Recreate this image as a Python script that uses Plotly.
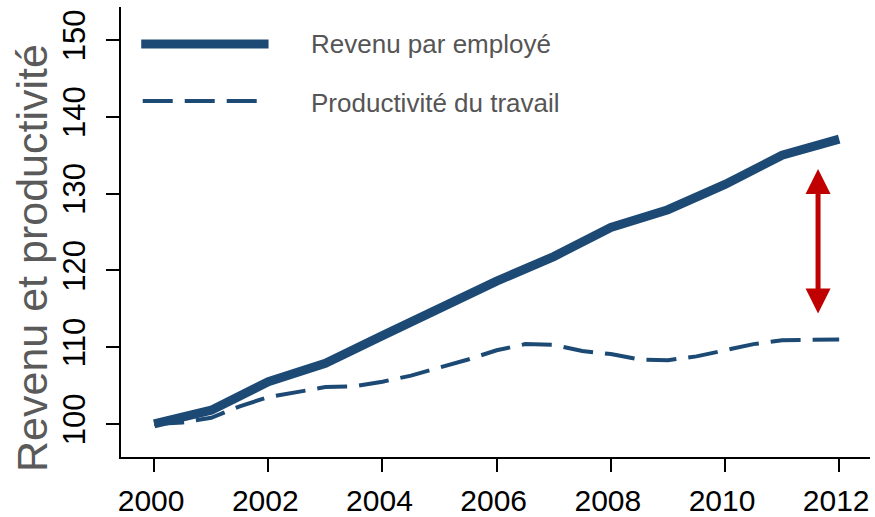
import plotly.graph_objects as go

# Revenu par employé (indice 2000 = 100)
years_rev = [2000, 2000.5, 2001, 2002, 2003, 2004, 2005, 2006, 2007, 2008, 2009, 2010, 2011, 2012]
revenu = [100, 100.9, 101.8, 105.5, 107.9, 111.5, 115.2, 118.6, 121.8, 125.6, 127.9, 131.2, 135.0, 137.1]

# Productivité du travail (indice 2000 = 100)
years_prod = [2000, 2000.5, 2001, 2001.5, 2002, 2002.5, 2003, 2003.5, 2004, 2004.5, 2005, 2005.5,
              2006, 2006.5, 2007, 2007.5, 2008, 2008.5, 2009, 2009.5, 2010, 2010.5, 2011, 2011.5, 2012]
productivite = [100, 100.2, 100.8, 102.3, 103.5, 104.2, 104.8, 104.9, 105.5, 106.3, 107.3, 108.4,
                109.6, 110.4, 110.3, 109.5, 109.1, 108.4, 108.3, 108.8, 109.6, 110.4, 110.9, 111.0, 111.0]

x_ticks = [2000, 2002, 2004, 2006, 2008, 2010, 2012]
y_ticks = [100, 110, 120, 130, 140, 150]

# écart signalé par la flèche rouge
gap_year = 2011.63
gap_low, gap_high = 114.2, 133.2

navy = "#1D4A74"
red = "#C00000"
font = "Liberation Sans, Arial, sans-serif"

fig = go.Figure()
fig.add_trace(go.Scatter(x=years_rev, y=revenu, mode="lines",
                         line=dict(color=navy, width=9), showlegend=False))
fig.add_trace(go.Scatter(x=years_prod, y=productivite, mode="lines",
                         line=dict(color=navy, width=4, dash="30px,12px"), showlegend=False))

# double flèche
fig.add_annotation(x=gap_year, y=gap_high, ax=gap_year, ay=gap_low,
                   xref="x", yref="y", axref="x", ayref="y", text="",
                   showarrow=True, arrowhead=2, arrowside="end+start",
                   arrowsize=1.0, arrowwidth=5, arrowcolor=red, standoff=0, startstandoff=0)

# légende manuelle
fig.add_shape(type="line", xref="paper", yref="paper", x0=0.027, x1=0.197, y0=0.918, y1=0.918,
              line=dict(color=navy, width=9))
fig.add_shape(type="line", xref="paper", yref="paper", x0=0.029, x1=0.183, y0=0.791, y1=0.791,
              line=dict(color=navy, width=4, dash="30px,12px"))
for label, ypos in [("Revenu par employé", 0.918), ("Productivité du travail", 0.786)]:
    fig.add_annotation(x=0.251, y=ypos, xref="paper", yref="paper", text=label,
                       showarrow=False, xanchor="left", yanchor="middle",
                       font=dict(family=font, size=26, color="#555555"))

# titre de l'axe vertical (placé un peu sous le centre, comme l'original)
fig.add_annotation(x=-0.119, y=0.442, xref="paper", yref="paper", text="Revenu et productivité",
                   showarrow=False, textangle=-90, xanchor="center", yanchor="middle",
                   font=dict(family=font, size=43, color="#5A5A5A"))

fig.update_layout(
    width=875, height=517,
    margin=dict(l=121, r=5, t=7, b=60),
    plot_bgcolor="white", paper_bgcolor="white",
    font=dict(family=font, color="black"),
)
fig.update_xaxes(range=[1999.42, 2012.54], tickvals=x_ticks, ticks="outside", ticklen=13,
                 tickwidth=1.5, tickcolor="black", showline=True, linecolor="black", linewidth=1.5,
                 showgrid=False, zeroline=False, automargin=False, ticklabelstandoff=3,
                 ticklabelshift=-3, tickfont=dict(size=30, family=font, color="black"))
fig.update_yaxes(range=[95.7, 154.3], tickvals=y_ticks, ticks="outside", ticklen=13,
                 tickwidth=1.5, tickcolor="black", showline=True, linecolor="black", linewidth=1.5,
                 showgrid=False, zeroline=False, tickangle=-90, automargin=False,
                 ticklabelstandoff=9, tickfont=dict(size=31, family=font, color="black"))

# pas de marge de page autour de la figure, pas de barre d'outils
fig.write_html("out.html", config={"displayModeBar": False},
               post_script="document.body.style.margin='0';")
